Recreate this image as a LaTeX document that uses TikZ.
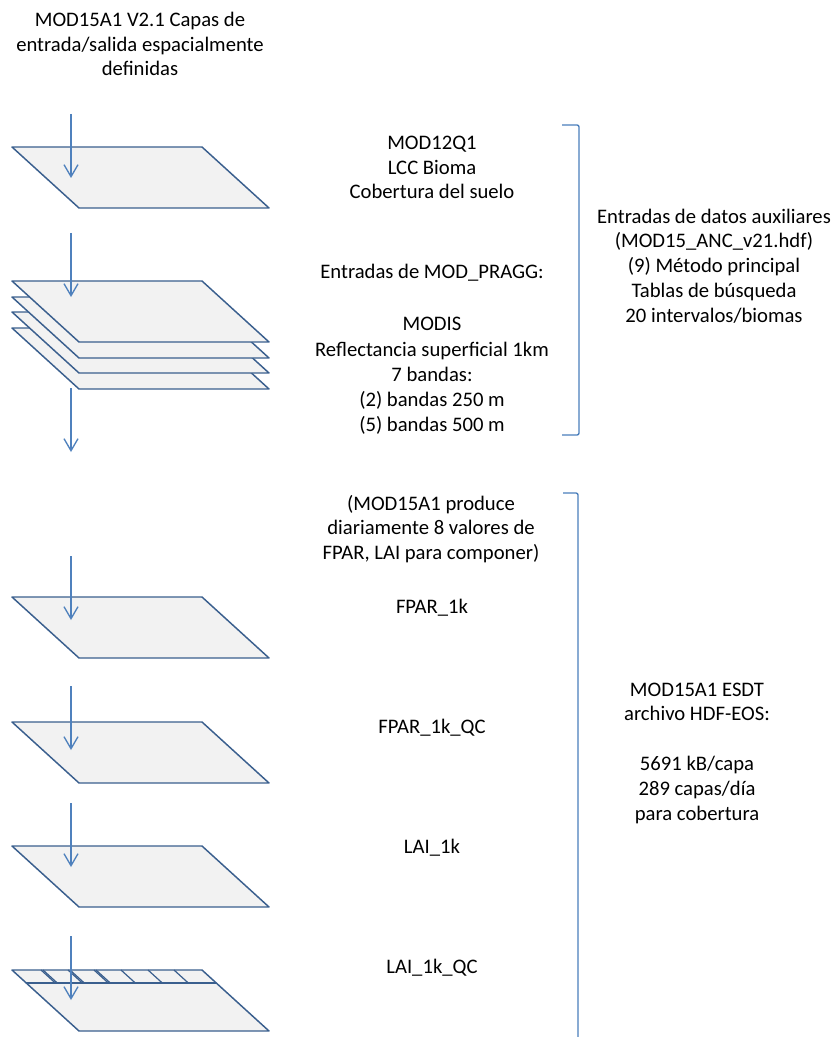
\documentclass[tikz,border=0pt]{standalone}
\usepackage{fontspec}
\setmainfont{Carlito}
\usetikzlibrary{arrows.meta}
\definecolor{edge}{HTML}{3A5F8E}
\definecolor{fillc}{HTML}{F2F2F2}
\definecolor{arr}{HTML}{4F81BD}
\definecolor{brk}{HTML}{4A7EBB}
\begin{document}
\begin{tikzpicture}[x=0.75pt,y=-0.75pt,
  lay/.style={draw=edge, fill=fillc, line width=1.1pt, line join=round},
  gridl/.style={draw=edge, line width=1.1pt},
  flow/.style={draw=arr, line width=1pt, -{Straight Barb[length=9pt,width=10.5pt]}},
  brace/.style={draw=brk, line width=1pt, rounded corners=1.5pt},
  lbl/.style={font=\fontsize{15.5}{18.6}\selectfont, align=center, inner sep=0pt, text=black}]
\useasboundingbox (0,0) rectangle (834,1037);
\newcommand\layershape[1]{\path[lay] (12,#1) -- (202,#1) -- (269,#1+61) -- (79,#1+61) -- cycle;}
\newcommand\flowarrow[3]{\coordinate (#1a) at (71,#2); \coordinate (#1b) at (71,#3); \draw[flow] (#1a) -- (#1b);}

% title
\node[lbl] (title) at (140,44) {MOD15A1 V2.1 Capas de\\entrada/salida espacialmente\\definidas};

% layer 1
\layershape{147}
\flowarrow{a1}{114}{178}
\node[lbl] (mod12) at (432,167.5) {MOD12Q1\\LCC Bioma\\Cobertura del suelo};

% stacked layers
\layershape{328}
\layershape{312}
\layershape{297}
\layershape{281}
\flowarrow{a2}{233}{297}
\flowarrow{a3}{388}{452}
\node[lbl] (pragg) at (432,273) {Entradas de MOD\_PRAGG:};
\node[lbl, font=\fontsize{15.5}{18.9}\selectfont] (modis) at (432,376) {MODIS\\Reflectancia superficial 1km\\7 bandas:\\(2) bandas 250 m\\(5) bandas 500 m};

% bracket 1
\draw[brace] (562,125) -- (579,125) -- (579,435) -- (562,435);
\node[lbl] (anc) at (714,266) {Entradas de datos auxiliares\\(MOD15\_ANC\_v21.hdf)\\(9) Método principal\\Tablas de búsqueda\\20 intervalos/biomas};

% output text
\node[lbl] (prod) at (431,529) {(MOD15A1 produce\\diariamente 8 valores de\\FPAR, LAI para componer)};

% output layers
\layershape{597}
\flowarrow{a4}{556}{620}
\node[lbl] (fpar) at (432,608) {FPAR\_1k};

\layershape{722}
\flowarrow{a5}{686}{750}
\node[lbl] (fparqc) at (432,728) {FPAR\_1k\_QC};

\layershape{846}
\flowarrow{a6}{803}{867}
\node[lbl] (lai) at (432,848) {LAI\_1k};

\layershape{970}
\draw[gridl] (26.3,983) -- (216.3,983);
\foreach \xx in {41,43,68,70,94,96,121,148,174}
  \draw[gridl, line width=0.9pt] (\xx,970) -- (\xx+14.3,983);
\flowarrow{a7}{936}{1000}
\node[lbl] (laiqc) at (432,968) {LAI\_1k\_QC};

% bracket 2
\draw[brace] (563,493) -- (578,493) -- (578,1040);
\node[lbl] (esdt) at (697,753) {MOD15A1 ESDT\\archivo HDF-EOS:\\[\baselineskip]5691 kB/capa\\289 capas/día\\para cobertura};
\end{tikzpicture}
\end{document}
